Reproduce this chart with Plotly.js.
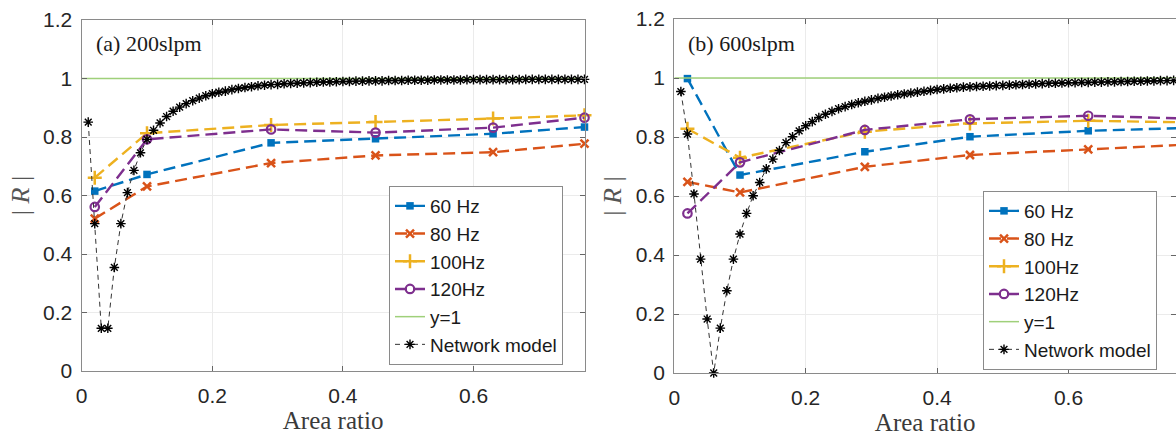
<!DOCTYPE html>
<html>
<head>
<meta charset="utf-8">
<script src="https://cdn.plot.ly/plotly-3.0.1.min.js"></script>
<style>html,body{margin:0;padding:0;background:#fff;}#chart{width:1176px;height:437px;}</style>
</head>
<body>
<div id="chart"></div>
<script>
// ---------- data ----------
const areaRatio = [0.02, 0.1, 0.29, 0.45, 0.63, 0.77];

// (a) 200 slpm
const a60  = [0.615, 0.672, 0.780, 0.794, 0.811, 0.834];
const a80  = [0.521, 0.631, 0.711, 0.737, 0.748, 0.777];
const a100 = [0.661, 0.813, 0.841, 0.851, 0.863, 0.874];
const a120 = [0.561, 0.792, 0.826, 0.815, 0.832, 0.866];

// (b) 600 slpm
const b60  = [0.998, 0.671, 0.750, 0.801, 0.821, 0.830];
const b80  = [0.648, 0.612, 0.699, 0.739, 0.758, 0.773];
const b100 = [0.828, 0.730, 0.818, 0.846, 0.855, 0.850];
const b120 = [0.541, 0.714, 0.824, 0.860, 0.872, 0.863];

const netX = [0.01,0.02,0.03,0.04,0.05,0.06,0.07,0.08,0.09,0.10,
  0.11,0.12,0.13,0.14,0.15,0.16,0.17,0.18,0.19,0.20,
  0.21,0.22,0.23,0.24,0.25,0.26,0.27,0.28,0.29,0.30,
  0.31,0.32,0.33,0.34,0.35,0.36,0.37,0.38,0.39,0.40,
  0.41,0.42,0.43,0.44,0.45,0.46,0.47,0.48,0.49,0.50,
  0.51,0.52,0.53,0.54,0.55,0.56,0.57,0.58,0.59,0.60,
  0.61,0.62,0.63,0.64,0.65,0.66,0.67,0.68,0.69,0.70,
  0.71,0.72,0.73,0.74,0.75,0.76,0.77];

const netA = [0.851,0.504,0.146,0.146,0.354,0.504,0.610,0.686,0.746,0.792,
  0.823,0.848,0.870,0.888,0.902,0.914,0.924,0.933,0.941,0.948,
  0.953,0.957,0.962,0.966,0.969,0.972,0.975,0.977,0.979,0.980,
  0.982,0.983,0.984,0.985,0.986,0.987,0.988,0.988,0.989,0.990,
  0.990,0.991,0.991,0.992,0.992,0.992,0.993,0.993,0.993,0.994,
  0.994,0.994,0.994,0.995,0.995,0.995,0.995,0.995,0.996,0.996,
  0.996,0.996,0.996,0.996,0.996,0.996,0.996,0.997,0.997,0.997,
  0.997,0.997,0.997,0.997,0.997,0.997,0.997];

const netB = [0.954,0.810,0.607,0.386,0.183,0.000,0.152,0.279,0.386,0.471,
  0.541,0.601,0.646,0.692,0.725,0.754,0.781,0.801,0.821,0.838,
  0.852,0.866,0.877,0.887,0.896,0.903,0.910,0.916,0.921,0.926,
  0.931,0.935,0.939,0.943,0.946,0.949,0.952,0.955,0.958,0.961,
  0.963,0.965,0.967,0.969,0.970,0.971,0.972,0.973,0.974,0.975,
  0.976,0.977,0.978,0.979,0.980,0.981,0.982,0.982,0.983,0.984,
  0.984,0.985,0.985,0.986,0.986,0.987,0.987,0.988,0.988,0.989,
  0.989,0.990,0.990,0.991,0.991,0.992,0.992];

const refLineX = [0, 0.77];
const refLineY = [1, 1];

const seriesNames = ['60 Hz', '80 Hz', '100Hz', '120Hz', 'y=1', 'Network model'];
const panelTitles = ['(a) 200slpm', '(b) 600slpm'];
const xTickVals = [0, 0.2, 0.4, 0.6];
const xTickText = ['0', '0.2', '0.4', '0.6'];

// ---------- styles ----------
const C = {c60:'#0072BD', c80:'#D95319', c100:'#EDB120', c120:'#7E2F8E', ref:'#9fd07a', net:'#000000'};
const dashS = '12px,6px';

function panelTraces(sfx, leg, d60, d80, d100, d120, net){
  const xa = 'x' + sfx, ya = 'y' + sfx;
  const base = {xaxis: xa, yaxis: ya, legend: leg, mode: 'lines+markers', cliponaxis: false};
  return [
    Object.assign({}, base, {x: areaRatio, y: d60, name: seriesNames[0],
      line: {color: C.c60, width: 2.4, dash: dashS},
      marker: {symbol: 'square', size: 7.5, color: C.c60}}),
    Object.assign({}, base, {x: areaRatio, y: d80, name: seriesNames[1],
      line: {color: C.c80, width: 2.4, dash: dashS},
      marker: {symbol: 'x-thin-open', size: 8, color: C.c80, line: {width: 2.5, color: C.c80}}}),
    Object.assign({}, base, {x: areaRatio, y: d100, name: seriesNames[2],
      line: {color: C.c100, width: 2.4, dash: dashS},
      marker: {symbol: 'cross-thin-open', size: 10, color: C.c100, line: {width: 2.5, color: C.c100}}}),
    Object.assign({}, base, {x: areaRatio, y: d120, name: seriesNames[3],
      line: {color: C.c120, width: 2.4, dash: dashS},
      marker: {symbol: 'circle-open', size: 8.5, color: C.c120, line: {width: 2.2, color: C.c120}}}),
    {x: refLineX, y: refLineY, xaxis: xa, yaxis: ya, legend: leg, mode: 'lines', name: seriesNames[4],
      line: {color: C.ref, width: 1.5}},
    Object.assign({}, base, {x: netX, y: net, name: seriesNames[5],
      line: {color: '#333', width: 1, dash: '5px,4px'},
      marker: {symbol: 'asterisk-open', size: 8, color: C.net, line: {width: 1.4, color: C.net}}})
  ];
}

const data = [].concat(
  panelTraces('', 'legend', a60, a80, a100, a120, netA),
  panelTraces('2', 'legend2', b60, b80, b100, b120, netB)
);

const tickFont = {family: 'Liberation Sans, Arial, sans-serif', size: 21, color: '#262626'};
const serifFont = {family: 'Liberation Serif, Times New Roman, serif', size: 25, color: '#3a3a3a'};

function xAxis(domain, range, anchor){
  return {domain: domain, range: range, anchor: anchor,
    tickvals: xTickVals, ticktext: xTickText, ticks: 'inside', ticklen: 5, tickcolor: '#666',
    showline: true, linecolor: '#8a8a8a', linewidth: 1.2, mirror: 'ticks',
    showgrid: true, gridcolor: '#ebebeb', gridwidth: 1, zeroline: false,
    tickfont: tickFont, ticklabelstandoff: 6,
    title: {text: 'Area ratio', font: serifFont, standoff: 4}};
}
function yAxis(domain, anchor){
  return {domain: domain, range: [0, 1.2], anchor: anchor, dtick: 0.2, tick0: 0,
    ticks: 'inside', ticklen: 5, tickcolor: '#666',
    showline: true, linecolor: '#8a8a8a', linewidth: 1.2, mirror: 'ticks',
    showgrid: true, gridcolor: '#ebebeb', gridwidth: 1, zeroline: false,
    tickfont: tickFont, ticklabelstandoff: 4,
    title: {text: '| <i>R</i> |', font: {family: 'Liberation Serif, serif', size: 26, color: '#555'}, standoff: 6}};
}

const H = 437, W = 1176;
const legFont = {family: 'Liberation Sans, Arial, sans-serif', size: 19, color: '#1a1a1a'};
const layout = {
  width: W, height: H,
  margin: {l: 0, r: 0, t: 0, b: 0},
  paper_bgcolor: '#fff', plot_bgcolor: '#fff',
  xaxis: xAxis([81.7/W, 584.5/W], [0, 0.77], 'y'),
  yaxis: yAxis([(H-371)/H, (H-20)/H], 'x'),
  xaxis2: xAxis([674.3/W, 1], [0, 0.7636], 'y2'),
  yaxis2: yAxis([(H-373)/H, (H-19)/H], 'x2'),
  legend: {x: 389/W, y: (H-186)/H, xanchor: 'left', yanchor: 'top',
    bgcolor: '#fff', bordercolor: '#8a8a8a', borderwidth: 1,
    font: legFont, tracegroupgap: 0, itemwidth: 30},
  legend2: {x: 983/W, y: (H-191)/H, xanchor: 'left', yanchor: 'top',
    bgcolor: '#fff', bordercolor: '#8a8a8a', borderwidth: 1,
    font: legFont, tracegroupgap: 0, itemwidth: 30},
  annotations: [
    {text: panelTitles[0], xref: 'paper', yref: 'paper', x: 94/W, y: (H-43)/H,
      xanchor: 'left', yanchor: 'middle', showarrow: false,
      font: {family: 'Liberation Serif, Times New Roman, serif', size: 22, color: '#1a1a1a'}},
    {text: panelTitles[1], xref: 'paper', yref: 'paper', x: 686/W, y: (H-43)/H,
      xanchor: 'left', yanchor: 'middle', showarrow: false,
      font: {family: 'Liberation Serif, Times New Roman, serif', size: 22, color: '#1a1a1a'}}
  ],
  showlegend: true
};

Plotly.newPlot('chart', data, layout, {displayModeBar: false, staticPlot: true});
</script>
</body>
</html>
